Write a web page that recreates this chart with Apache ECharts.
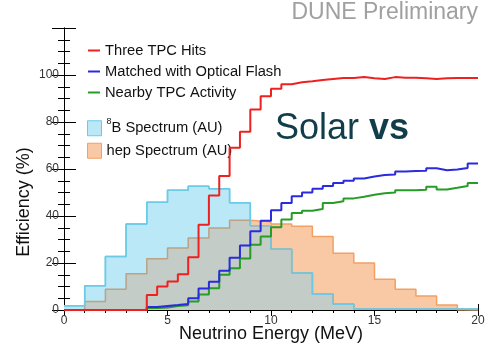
<!DOCTYPE html>
<html>
<head>
<meta charset="utf-8">
<script src="https://cdn.jsdelivr.net/npm/echarts@6/dist/echarts.min.js"></script>
<style>html,body{margin:0;padding:0;background:#fff;overflow:hidden}#c{width:491px;height:346px}</style>
</head>
<body>
<div id="c"></div>
<script>
// ---- data ----
const effBinStart = 0;     // MeV
const effBinWidth = 0.5;   // MeV
const threeTPCHits = [0,0,0,0,0,0,0,0,
  6.4,10.0,12.1,15.2,22.4,36.3,48.7,57.0,69.0,75.8,85.3,91.0,94.2,96.1,96.9,97.3,
  97.9,98.3,98.7,98.7,99.1,98.6,98.3,99.1,98.8,98.8,98.6,98.3,98.6,98.7,98.7,98.7];
const matchedOpticalFlash = [0,0,0,0,0,0,0,0,
  1.3,1.7,2.1,2.6,5.0,9.1,12.0,16.7,22.2,27.4,33.5,38.0,42.5,45.5,48.4,50.0,
  51.6,52.8,54.0,55.0,56.0,56.8,57.4,57.7,58.9,59.1,59.3,60.3,59.5,59.8,60.4,62.3];
const nearbyTPCActivity = [0,0,0,0,0,0,0,0,
  0.9,1.1,1.7,2.0,3.6,6.6,9.3,15.0,17.8,21.9,27.8,31.3,35.2,38.5,41.3,42.2,
  43.0,45.5,46.3,47.5,48.2,49.0,49.7,50.0,51.0,51.0,51.2,52.5,51.3,52.0,52.8,54.0];
const specBinStart = 0;
const specBinWidth = 1;
const b8Spectrum = [1.8,10.3,22.8,36.6,45.9,51.0,52.7,51.6,45.6,35.9,25.9,15.7,6.7,2.4,0.4,0.4,0.4,0.4,0.4,0.4];
const hepSpectrum = [0,3.6,8.8,15.4,21.8,26.4,30.6,34.9,38.2,37.5,36.6,35.6,31.3,24.2,20.0,13.1,8.8,6.0,2.1,0];
const xTickLabels = ['0','5','10','15','20'];
const yTickLabels = ['0','20','40','60','80','100'];
const names = {
  red: 'Three TPC Hits',
  blue: 'Matched with Optical Flash',
  green: 'Nearby TPC Activity',
  b8: '8B Spectrum (AU)',
  hep: 'hep Spectrum (AU)'
};
const yTitle = 'Efficiency (%)';
const xTitle = 'Neutrino Energy (MeV)';

// ---- helpers ----
function steps(values, start, width) {
  const pts = values.map((v, i) => [start + i * width, v]);
  pts.push([start + values.length * width, values[values.length - 1]]);
  return pts;
}
const overlap = b8Spectrum.map((v, i) => Math.min(v, hepSpectrum[i]));

const C = {
  red: '#ee2020', blue: '#2a2ade', green: '#279c27',
  b8Fill: '#bbe8f6', b8Line: '#6ccae6',
  hepFill: '#f9c8a4', hepLine: '#f2a064',
  ovFill: '#c3ccc6', ovLine: '#b9a286'
};
const FONT = '"Liberation Sans", Arial, Helvetica, sans-serif';

const chart = echarts.init(document.getElementById('c'), null, {renderer: 'canvas', width: 491, height: 346});

const axisCommon = {
  axisLine: {show: true, lineStyle: {color: '#000', width: 1}},
  splitLine: {show: false},
  minorSplitLine: {show: false}
};

chart.setOption({
  animation: false,
  backgroundColor: '#fff',
  textStyle: {fontFamily: FONT},
  grid: {left: 64, right: 13, top: 28, bottom: 36, containLabel: false, outerBoundsMode: 'none'},
  xAxis: [
    Object.assign({}, axisCommon, {
      type: 'value', min: 0, max: 20, interval: 5, position: 'bottom',
      name: xTitle, nameLocation: 'middle', nameGap: 15, nameMoveOverlap: false,
      nameTextStyle: {fontSize: 18, color: '#111', fontFamily: FONT, verticalAlign: 'top'},
      axisTick: {show: true, inside: true, length: 6, lineStyle: {color: '#000'}},
      minorTick: {show: true, splitNumber: 5, length: 3, lineStyle: {color: '#000'}},
      axisLabel: {show: true, fontSize: 12, color: '#333', margin: 5, fontFamily: FONT,
        formatter: v => xTickLabels.includes(String(v)) ? String(v) : ''}
    }),
    Object.assign({}, axisCommon, {
      type: 'value', min: 0, max: 20, interval: 5, position: 'top',
      axisTick: {show: true, inside: true, length: 6, lineStyle: {color: '#000'}},
      minorTick: {show: true, splitNumber: 5, length: 3, lineStyle: {color: '#000'}},
      axisLabel: {show: false}
    })
  ],
  yAxis: [
    Object.assign({}, axisCommon, {
      type: 'value', min: 0, max: 120, interval: 20, position: 'left',
      axisTick: {show: true, inside: true, length: 12, lineStyle: {color: '#000'}},
      minorTick: {show: true, splitNumber: 4, length: 6, lineStyle: {color: '#000'}},
      axisLabel: {show: true, fontSize: 12, color: '#333', margin: 5, fontFamily: FONT,
        formatter: v => yTickLabels.includes(String(v)) ? String(v) : ''}
    }),
    Object.assign({}, axisCommon, {
      type: 'value', min: 0, max: 120, interval: 20, position: 'right',
      axisTick: {show: true, inside: true, length: 12, lineStyle: {color: '#000'}},
      minorTick: {show: true, splitNumber: 4, length: 6, lineStyle: {color: '#000'}},
      axisLabel: {show: false}
    })
  ],
  legend: [
    {
      orient: 'vertical', left: 88, top: 40, padding: 0, itemWidth: 12, itemHeight: 2, itemGap: 0,
      icon: 'rect', selectedMode: false,
      textStyle: {fontSize: 14.7, color: '#111', lineHeight: 21, fontFamily: FONT},
      data: [names.red, names.blue, names.green]
    },
    {
      orient: 'vertical', left: 87, top: 117, padding: 0, itemWidth: 14, itemHeight: 15, itemGap: 0,
      selectedMode: false,
      textStyle: {fontSize: 14.7, color: '#111', lineHeight: 22.5, fontFamily: FONT,
        rich: {sup: {fontSize: 9, lineHeight: 22.5, verticalAlign: 'top', padding: [0, 0, 8, 0], fontFamily: FONT, color: '#111'},
               n: {fontSize: 14.7, lineHeight: 22.5, fontFamily: FONT, color: '#111'}}},
      formatter: n => n === names.b8 ? '{sup|8}{n|B Spectrum (AU)}' : '{n|' + n + '}',
      data: [
        {name: names.b8, icon: 'rect', itemStyle: {color: C.b8Fill, borderColor: C.b8Line, borderWidth: 1}},
        {name: names.hep, icon: 'rect', itemStyle: {color: C.hepFill, borderColor: C.hepLine, borderWidth: 1}}
      ]
    }
  ],
  graphic: [
    {type: 'text', right: 13, top: 1,
      style: {text: 'DUNE Preliminary', fill: '#a0a0a0', font: '23px ' + FONT}},
    {type: 'text', left: 275, top: 111,
      style: {text: '{a|Solar }{b|vs}', fill: '#123d4a',
        rich: {a: {fontSize: 36, fontFamily: FONT, fill: '#123d4a'},
               b: {fontSize: 36, fontWeight: 'bold', fontFamily: FONT, fill: '#123d4a'}}}},
    {type: 'text', x: 24, y: 202, rotation: Math.PI / 2,
      style: {text: yTitle, fill: '#111', font: '18px ' + FONT, align: 'center', verticalAlign: 'middle'}}
  ],
  series: [
    {name: names.hep, type: 'line', step: 'end', showSymbol: false, z: 1,
      color: C.hepFill,
      data: steps(hepSpectrum, specBinStart, specBinWidth),
      lineStyle: {color: C.hepLine, width: 1.5},
      areaStyle: {color: C.hepFill, opacity: 1}},
    {name: names.b8, type: 'line', step: 'end', showSymbol: false, z: 2,
      color: C.b8Fill,
      data: steps(b8Spectrum, specBinStart, specBinWidth),
      lineStyle: {color: C.b8Line, width: 1.5},
      areaStyle: {color: C.b8Fill, opacity: 1}},
    {name: 'overlap', type: 'line', step: 'end', showSymbol: false, z: 3,
      data: steps(overlap, specBinStart, specBinWidth),
      lineStyle: {color: C.ovLine, width: 1.5},
      areaStyle: {color: C.ovFill, opacity: 1}},
    {name: 'b8outline', type: 'line', step: 'end', showSymbol: false, z: 4,
      data: steps(b8Spectrum, specBinStart, specBinWidth),
      lineStyle: {color: C.b8Line, width: 1.5}},
    {name: names.green, type: 'line', step: 'end', showSymbol: false, z: 5, clip: false,
      color: C.green,
      data: steps(nearbyTPCActivity, effBinStart, effBinWidth),
      lineStyle: {color: C.green, width: 2}},
    {name: names.blue, type: 'line', step: 'end', showSymbol: false, z: 6, clip: false,
      color: C.blue,
      data: steps(matchedOpticalFlash, effBinStart, effBinWidth),
      lineStyle: {color: C.blue, width: 2}},
    {name: names.red, type: 'line', step: 'end', showSymbol: false, z: 7, clip: false,
      color: C.red,
      data: steps(threeTPCHits, effBinStart, effBinWidth),
      lineStyle: {color: C.red, width: 2}}
  ]
});
</script>
</body>
</html>
